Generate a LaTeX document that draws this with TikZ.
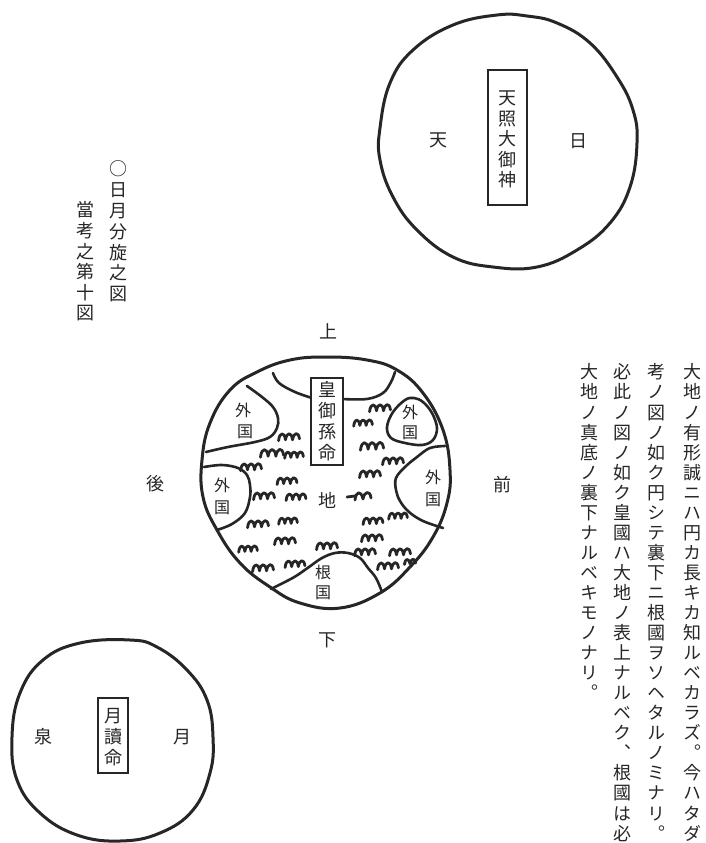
\documentclass[tikz,border=0pt]{standalone}
\usepackage{fontspec}
\newfontfamily\cjk[RawFeature={+vert}]{Noto Sans CJK JP}
\begin{document}
\begin{tikzpicture}[x=1pt,y=-1pt,
  ink/.style={draw=black!85, line width=3pt, line join=round, line cap=round},
  region/.style={draw=black!85, line width=2.6pt, line join=round, line cap=round},
  frame/.style={draw=black!85, line width=1.4pt, inner sep=0pt, fill=white},
  glyph/.style={font=\cjk\fontsize{18}{18}\selectfont, text=black!85, inner sep=0pt},
  small/.style={glyph, font=\cjk\fontsize{16}{16}\selectfont},
  vchar/.style={glyph, anchor=base, yshift=-6.9pt},
  mtnline/.style={draw=black!85, line width=2.8pt, line cap=round, line join=round},
  mtn/.pic={\draw[mtnline]
     (-11,5) .. controls (-10,-4) and (-5,-5) .. (-3.7,4)
             .. controls (-2.5,-4) and (2.5,-5) .. (3.7,4)
             .. controls (5,-4) and (10,-5) .. (11,3);},
  mtnb/.pic={\draw[mtnline]
     (-8,5) .. controls (-7,-4) and (-2,-5) .. (0,4)
            .. controls (1.5,-4) and (7,-5) .. (8,3);}
]
\newcommand\vcol[5]{% name, x, first y, pitch, characters
  \foreach \ch [count=\k from 0] in {#5}
    \node[vchar] (#1-\k) at (#2, #3+\k*#4) {\ch};}

\useasboundingbox (0,0) rectangle (706,843);
\fill[white] (0,0) rectangle (706,843);

% ---------- heaven: the sun ----------
\draw[ink] plot[smooth cycle, tension=0.7] coordinates {
  (380,128) (390,83) (413,50) (453,25) (497,15) (527,16) (557,23) (590,43)
  (617,77) (633,110) (637,143) (630,187) (610,223) (577,250) (537,267)
  (493,267) (453,257) (417,230) (393,197) (380,160)};
\node[frame, minimum width=39pt, minimum height=135pt] (sunbox) at (507.5,137.5) {};
\vcol{sun}{507.5}{98}{20.5}{天,照,大,御,神}
\node[glyph] (ten) at (438,140) {天};
\node[glyph] (hi) at (578,141) {日};

% ---------- title ----------
\vcol{ttl}{118}{169}{20.8}{○,日,月,分,旋,之,図}
\vcol{sub}{85}{210}{20.6}{當,考,之,第,十,図}

% ---------- the earth ----------
\draw[ink] plot[smooth cycle, tension=0.7] coordinates {
  (327,357) (367,360) (397,370) (423,393) (443,430) (450,470) (447,503)
  (433,537) (410,567) (380,593) (340,608) (300,603) (270,587) (240,563)
  (217,530) (203,497) (202,460) (210,423) (230,390) (257,372) (290,360)};

% top cap around the box
\draw[region] plot[smooth, tension=0.6] coordinates {(273,373) (279,383) (295,392) (312,398)};
\draw[region] plot[smooth, tension=0.6] coordinates {(342,399) (367,399) (383,393) (391,382) (395,372)};
% upper left land
\draw[region] plot[smooth, tension=0.6] coordinates {(247,386) (262,397) (273,407) (278,418) (277,428) (270,437) (255,442) (228,447) (206,452)};
% left land
\draw[region] plot[smooth, tension=0.6] coordinates {(204,467) (222,465) (238,468) (247,475) (250,485) (250,497) (245,513) (232,524) (217,530)};
% upper right island
\draw[region] plot[smooth cycle, tension=0.6] coordinates {
  (405,400) (393,412) (387,427) (391,438) (405,443) (422,445) (433,440)
  (437,428) (432,413) (423,402) (414,398)};
% right land
\draw[region] plot[smooth, tension=0.6] coordinates {(445,446) (430,448) (417,457) (405,467) (396,478) (396,490) (400,501) (409,512) (423,521) (443,528)};
% land below
\draw[region] plot[smooth, tension=0.6] coordinates {(271,589) (283,583) (296,576) (309,567) (322,558) (335,553) (348,553) (360,558) (368,568) (376,578) (382,592)};

% mountain strokes
\foreach \mx/\my/\ms [count=\n] in {
  289/436/0.95, 272/452/1.05, 294/454/0.85, 251/466/0.95, 287/480/0.9,
  264/495/0.95, 296/496/0.9, 258/523/0.95, 288/520/0.85, 285/540/0.95,
  248/548/0.85, 327/545/0.95, 263/567/0.95, 295/563/0.9,
  380/407/0.95, 363/422/0.85, 372/445/1.05, 393/460/0.95, 370/473/0.95,
  373/520/0.9, 398/515/0.85, 372/537/0.95, 365/551/0.95, 400/551/0.95, 388/565/0.95}
  \pic[scale=\ms] (m\n) at (\mx,\my) {mtn};
\pic (mp) at (363,495) {mtnb};
\draw[mtnline] (347,497) -- (355,496);
\pic[scale=0.7] (mt) at (410,561) {mtnb};

\node[frame, minimum width=32pt, minimum height=87pt] (earthbox) at (327,421.5) {};
\vcol{ear}{327}{390}{21}{皇,御,孫,命}
\node[glyph] (chi) at (327,500) {地};

\node[small] (ul1) at (243,410) {外};
\node[small] (ul2) at (245,432) {国};
\node[small] (l1) at (222,485) {外};
\node[small] (l2) at (222,508) {国};
\node[small] (ur1) at (410,412) {外};
\node[small] (ur2) at (410,433) {国};
\node[small] (r1) at (433,477) {外};
\node[small] (r2) at (433,500) {国};
\node[small] (ne1) at (323,572) {根};
\node[small] (ne2) at (323,593) {国};

\node[glyph] (ue) at (328,331) {上};
\node[glyph] (mae) at (502,485) {前};
\node[glyph] (ato) at (155,484) {後};
\node[glyph] (shita) at (327,640) {下};

% ---------- the moon ----------
\draw[ink] plot[smooth cycle, tension=0.7] coordinates {
  (130,640) (80,643) (43,660) (20,693) (12,737) (17,780) (40,813) (77,835)
  (120,841) (160,833) (193,810) (210,773) (213,737) (207,700) (187,670) (157,647)};
\node[frame, minimum width=30pt, minimum height=75pt] (moonbox) at (113,735.5) {};
\vcol{moo}{113}{716}{20.8}{月,讀,命}
\node[glyph] (izumi) at (43,737) {泉};
\node[glyph] (tsuki) at (182,737) {月};

% ---------- commentary ----------
\vcol{ca}{692}{372}{20.05}{大,地,ノ,有,形,誠,ニ,ハ,円,カ,長,キ,カ,知,ル,ベ,カ,ラ,ズ,。,今,ハ,タ,ダ}
\vcol{cb}{656}{372}{20.05}{考,ノ,図,ノ,如,ク,円,シ,テ,裏,下,ニ,根,國,ヲ,ソ,ヘ,タ,ル,ノ,ミ,ナ,リ,。}
\vcol{cc}{622}{372}{20.05}{必,此,ノ,図,ノ,如,ク,皇,國,ハ,大,地,ノ,表,上,ナ,ル,ベ,ク,、,根,國,は,必}
\vcol{cd}{589}{372}{20.05}{大,地,ノ,真,底,ノ,裏,下,ナ,ル,ベ,キ,モ,ノ,ナ,リ,。}
\end{tikzpicture}
\end{document}
